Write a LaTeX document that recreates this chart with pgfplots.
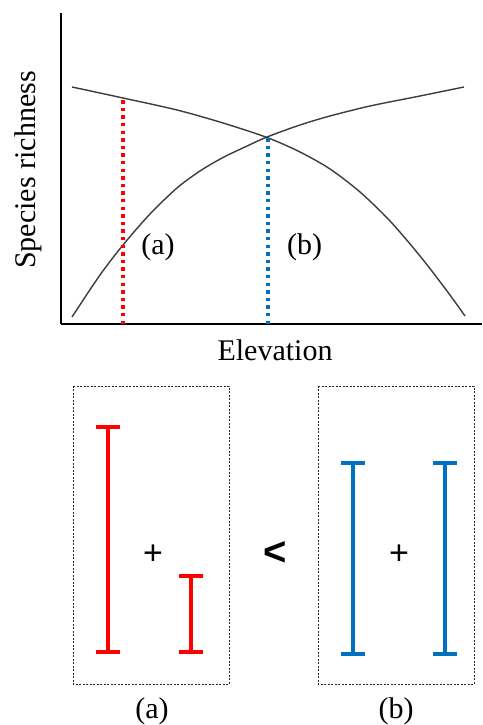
\documentclass[border=0pt]{standalone}
\usepackage{pgfplots}
\pgfplotsset{compat=1.18}
\usepackage{fontspec}
\setmainfont{Liberation Serif}
\newfontfamily\sansf{Liberation Sans}
\definecolor{myred}{RGB}{255,0,0}
\definecolor{myblue}{RGB}{0,112,192}
\definecolor{curvegray}{RGB}{60,60,60}
\begin{document}
\begin{tikzpicture}
% full-frame axis in pixel units (y downwards) for the lower panel and labels
\begin{axis}[name=full, at={(0pt,0pt)}, anchor=south west, scale only axis,
  width=482pt, height=725pt, xmin=0, xmax=482, ymin=0, ymax=725,
  y dir=reverse, hide axis, clip=false]
  \addplot[draw=none] coordinates {(0,0) (482,725)};
  % dotted boxes
  \addplot[black!85, line width=1pt, dash pattern=on 2pt off 1.5pt]
    coordinates {(73,386) (229,386) (229,684) (73,684) (73,386)};
  \addplot[black!85, line width=1pt, dash pattern=on 2pt off 1.5pt]
    coordinates {(318,386) (474,386) (474,684) (318,684) (318,386)};
  % red ranges (a)
  \addplot[myred, line width=3.3pt, unbounded coords=jump] coordinates {
    (108,427) (108,652) (nan,nan) (96,427) (120,427) (nan,nan) (96,652) (120,652)};
  \addplot[myred, line width=3.3pt, unbounded coords=jump] coordinates {
    (191,576) (191,652) (nan,nan) (179,576) (203,576) (nan,nan) (179,652) (203,652)};
  % blue ranges (b)
  \addplot[myblue, line width=3.3pt, unbounded coords=jump] coordinates {
    (353,463) (353,654) (nan,nan) (341,463) (365,463) (nan,nan) (341,654) (365,654)};
  \addplot[myblue, line width=3.3pt, unbounded coords=jump] coordinates {
    (445,463) (445,654) (nan,nan) (433,463) (457,463) (nan,nan) (433,654) (457,654)};
  % symbols and labels
  \node[font=\sansf\fontsize{34}{40}\selectfont, inner sep=0pt] at (axis cs:153,555) {+};
  \node[font=\sansf\fontsize{34}{40}\selectfont, inner sep=0pt] at (axis cs:399,555) {+};
  \node[font=\sansf\bfseries\fontsize{40}{46}\selectfont, inner sep=0pt] at (axis cs:275,553) {<};
  \node[font=\fontsize{30}{36}\selectfont, inner sep=0pt, overlay] at (axis cs:152,711.5) {(a)};
  \node[font=\fontsize{30}{36}\selectfont, inner sep=0pt, overlay] at (axis cs:396,711.5) {(b)};
  \node[font=\fontsize{30}{36}\selectfont, inner sep=0pt] at (axis cs:158,247) {(a)};
  \node[font=\fontsize{30}{36}\selectfont, inner sep=0pt] at (axis cs:304.5,247) {(b)};
  \node[font=\fontsize{30}{36}\selectfont, inner sep=0pt, anchor=base] at (axis cs:275,360) {Elevation};
  \node[font=\fontsize{30}{36}\selectfont, inner sep=0pt, anchor=base, rotate=90] at (axis cs:35,170) {Species richness};
\end{axis}
% upper panel
\begin{axis}[at={(61pt,401pt)}, anchor=south west, scale only axis,
  width=421pt, height=311pt, xmin=61, xmax=482, ymin=0, ymax=311,
  axis lines=left, axis line style={-, line width=2.6pt, black},
  xtick=\empty, ytick=\empty, clip=false]
  \addplot[curvegray, line width=1.4pt, smooth, tension=0.5] coordinates {
    (72,237) (123,226) (177,214) (223,201) (267,186.5) (300,172) (330,155)
    (360,132) (390,103) (420,68) (447,33) (465,8)};
  \addplot[curvegray, line width=1.4pt, smooth, tension=0.5] coordinates {
    (72,7) (100,49) (123,79) (150,110) (177,136) (200,153) (223,166.5) (245,177)
    (267,187) (300,199) (330,208) (370,218) (420,228) (464,237)};
  \addplot[myred, line width=3.3pt, dash pattern=on 3.3pt off 4.3pt]
    coordinates {(123,0) (123,226)};
  \addplot[myblue, line width=3.3pt, dash pattern=on 3.3pt off 4.3pt]
    coordinates {(268,0) (268,187)};
\end{axis}
\pgfresetboundingbox
\path[use as bounding box] (0pt,0pt) rectangle (482pt,725pt);
\end{tikzpicture}
\end{document}
